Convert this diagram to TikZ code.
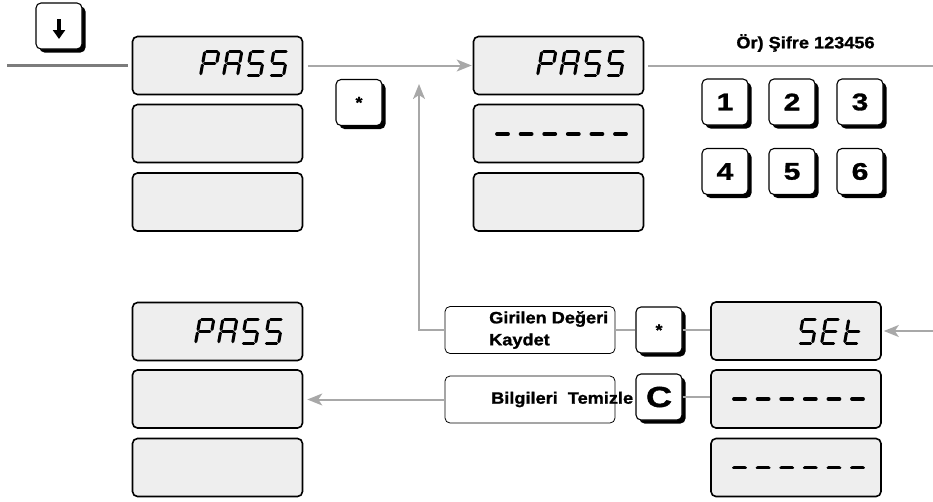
\documentclass[tikz,border=0pt]{standalone}
\usepackage{fontspec}
\setmainfont{Liberation Sans}
\newfontfamily\lblfont{Liberation Sans}[FakeStretch=1.1,FakeBold=1.2]
\newfontfamily\keyfont{Liberation Sans}[FakeStretch=1.25,FakeBold=1.2]
\usetikzlibrary{arrows.meta,shadows,calc}
\definecolor{dispgray}{HTML}{EEEEEE}
\definecolor{conngray}{HTML}{A8A8A8}
\definecolor{conndark}{HTML}{7C7C7C}
\tikzset{
  disp/.style={draw=black, line width=1.6pt, fill=dispgray, rounded corners=5pt,
    minimum width=170pt, minimum height=58pt, inner sep=0pt},
  keyshadow/.style={drop shadow={shadow xshift=3.5pt, shadow yshift=-3.5pt, fill=black, opacity=1}},
  keybox/.style={draw=black, line width=1.1pt, fill=white, rounded corners=5pt,
    minimum width=46pt, minimum height=46pt, inner sep=0pt, keyshadow},
  digitkey/.style={keybox, font=\keyfont\bfseries\fontsize{24}{24}\selectfont},
  starkey/.style={keybox, font=\lblfont\bfseries\fontsize{16}{16}\selectfont},
  lblbox/.style={draw=black, line width=0.8pt, fill=white, rounded corners=5pt,
    minimum width=170pt, minimum height=47pt, inner sep=0pt},
  lbltext/.style={font=\lblfont\bfseries\fontsize{16.5}{22}\selectfont, inner sep=0pt},
  conn/.style={draw=conngray, line width=2pt},
  conndk/.style={draw=conndark, line width=2.4pt},
  arr/.style={-{Stealth[length=15pt,width=12pt,inset=4pt]}},
  segline/.style={line width=3pt, line cap=round, black},
  dashline/.style={line width=3.8pt, line cap=round, black},
}
\newcommand\sga{\draw[segline] (1.8,24.5) -- (12.2,24.5);}
\newcommand\sgb{\draw[segline] (14,22.7) -- (14,14.05);}
\newcommand\sgc{\draw[segline] (14,10.45) -- (14,1.8);}
\newcommand\sgd{\draw[segline] (1.8,0) -- (12.2,0);}
\newcommand\sge{\draw[segline] (0,1.8) -- (0,10.45);}
\newcommand\sgf{\draw[segline] (0,14.05) -- (0,22.7);}
\newcommand\sgg{\draw[segline] (1.8,12.25) -- (12.2,12.25);}
\newcommand\sevseg[3]{\begin{scope}[shift={(#1,#2)},x=1pt,y=1pt,xslant=0.18]
  \foreach \s in {#3}{\csname sg\s\endcsname}\end{scope}}
\newcommand\password[2]{%
  \sevseg{#1}{#2}{a,b,e,f,g}%
  \sevseg{#1+23}{#2}{a,b,c,e,f,g}%
  \sevseg{#1+46}{#2}{a,f,g,c,d}%
  \sevseg{#1+69}{#2}{a,f,g,c,d}}
\newcommand\dashrow[2]{\foreach \i in {0,...,5}{\draw[dashline] (#1+\i*23.6,#2) -- ++(11,0);}}
\begin{document}
\begin{tikzpicture}[x=1pt,y=-1pt]
\useasboundingbox (0,0) rectangle (933,501);
% display panels
\node[disp] (a1) at (217.5,65.5) {};
\node[disp] (a2) at (217.5,133.5) {};
\node[disp] (a3) at (217.5,202) {};
\node[disp] (b1) at (558.5,65.5) {};
\node[disp] (b2) at (558.5,133.5) {};
\node[disp] (b3) at (558.5,202) {};
\node[disp] (c1) at (217.5,331.5) {};
\node[disp] (c2) at (217.5,399) {};
\node[disp] (c3) at (217.5,467.5) {};
\node[disp] (d1) at (796,331) {};
\node[disp] (d2) at (796,399) {};
\node[disp] (d3) at (796,467.5) {};
% seven-segment texts
\password{200.5}{75.5}
\password{537.5}{75.5}
\password{195.5}{343.5}
\sevseg{798.5}{343.5}{a,f,g,c,d}
\sevseg{821.5}{343.5}{a,f,g,e,d}
\sevseg{844.5}{343.5}{f,e,g,d}
\dashrow{497}{134}
\dashrow{734}{399}
\dashrow{734}{467.5}
% keys
\node[keybox] (kdown) at (59,26) {};
\draw[line width=3.2pt, -{Triangle[length=9pt,width=12pt]}] ([yshift=7pt]kdown.center) -- ([yshift=-13pt]kdown.center);
\node[starkey] (kstar1) at (359,102.5) {*};
\node[digitkey] (k1) at (725,102) {1};
\node[digitkey] (k2) at (792,102) {2};
\node[digitkey] (k3) at (860,102) {3};
\node[digitkey] (k4) at (725,171.5) {4};
\node[digitkey] (k5) at (792,171.5) {5};
\node[digitkey] (k6) at (860,171.5) {6};
\node[starkey] (kstar2) at (659,330) {*};
\node[keybox, font=\keyfont\bfseries\fontsize{29}{29}\selectfont] (kc) at (659,397) {C};
% label boxes
\node[lblbox] (gir) at (530,330) {};
\node[lblbox] (bil) at (530,399.5) {};
\node[lbltext, anchor=west, align=left] (girtext) at (489,330) {Girilen Değeri\\Kaydet};
\node[lbltext, anchor=west] (biltext) at (491,399.5) {Bilgileri\ \ Temizle};
\node[lbltext, font=\lblfont\bfseries\fontsize{16.5}{16.5}\selectfont] (ex) at (805.5,43) {Ör) Şifre 123456};
% connectors
\coordinate (lin) at (7,65.5);
\coordinate (rout) at (933,65.5);
\coordinate (rin) at (933,331);
\coordinate (up) at (419,84);
\draw[conndk, shorten >=4pt] (lin) -- (a1.west);
\draw[conn, arr, shorten <=5pt, shorten >=1pt] (a1.east) -- (b1.west);
\draw[conn, shorten <=4pt] (b1.east) -- (rout);
\draw[conn, arr, shorten >=2pt] (rin) -- (d1.east);
\draw[conn] (kstar2.east) -- (kstar2.east -| d1.west);
\draw[conn] (gir.east) -- (kstar2.west);
\draw[conn, arr] (gir.west) -| (up);
\draw[conn] (kc.east) -- (kc.east -| d2.west);
\draw[conn, arr, shorten >=4pt] (bil.west) -- (bil.west -| c2.east);
\end{tikzpicture}
\end{document}
